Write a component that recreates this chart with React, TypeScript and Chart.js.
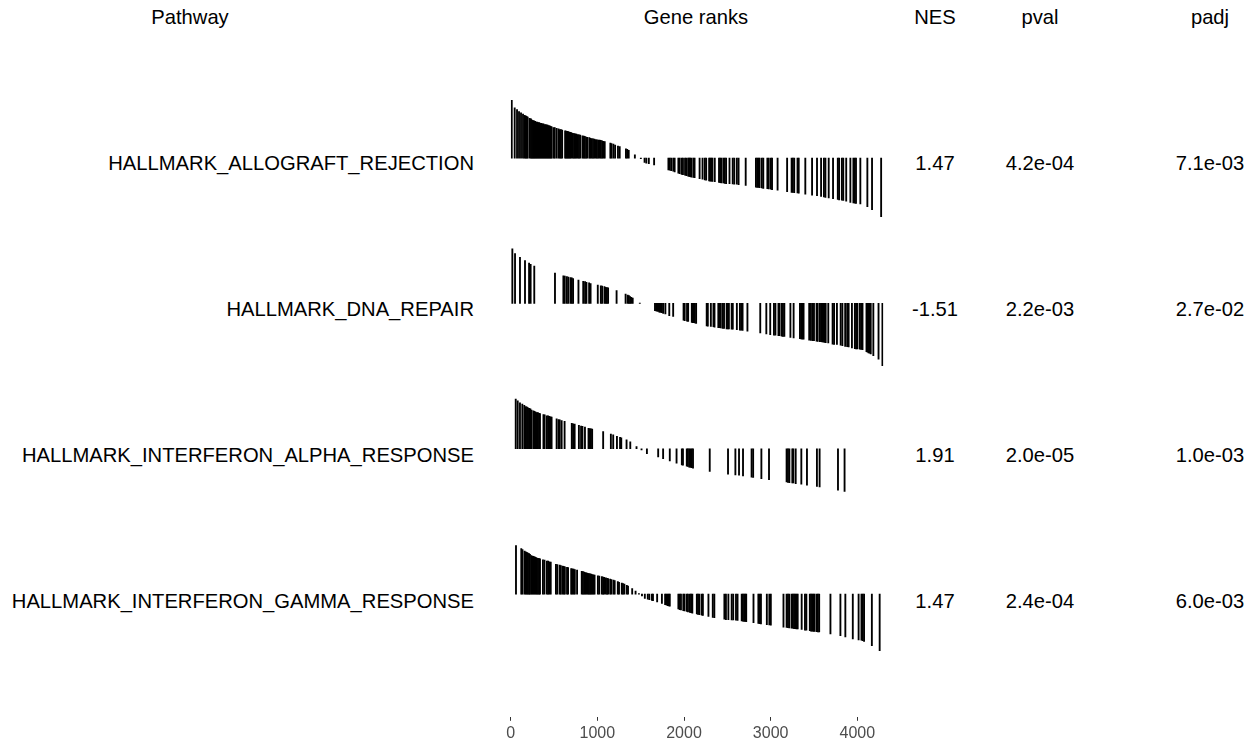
import React, { useEffect, useRef } from 'react';
import { Chart, registerables } from 'chart.js';

Chart.register(...registerables);

// ---------- data ----------
const PATHWAYS = [
  'HALLMARK_ALLOGRAFT_REJECTION',
  'HALLMARK_DNA_REPAIR',
  'HALLMARK_INTERFERON_ALPHA_RESPONSE',
  'HALLMARK_INTERFERON_GAMMA_RESPONSE',
];
const NES = ['1.47', '-1.51', '1.91', '1.47'];
const PVAL = ['4.2e-04', '2.2e-03', '2.0e-05', '2.4e-04'];
const PADJ = ['7.1e-03', '2.7e-02', '1.0e-03', '6.0e-03'];
const HEADERS = ['Pathway', 'Gene ranks', 'NES', 'pval', 'padj'];

const RANK_MAX = 4300;
const X_TICKS = [0, 1000, 2000, 3000, 4000];

// gene positions in the ranked list and their (scaled) ranking statistic
const RANKS_ALLOGRAFT = [
  12, 46, 73, 96, 119, 142, 160, 172, 184, 196, 219, 234, 246, 258, 270, 282, 294, 306, 318, 330,
  342, 354, 366, 378, 390, 402, 414, 426, 438, 450, 462, 473, 495, 508, 530, 552, 566, 580, 594, 628,
  640, 652, 664, 676, 688, 700, 718, 732, 746, 758, 774, 788, 802, 828, 842, 855, 870, 885, 908, 920,
  935, 950, 965, 980, 995, 1010, 1025, 1040, 1055, 1070, 1085, 1150, 1163, 1185, 1205, 1238, 1258, 1330, 1345, 1362,
  1433, 1502, 1545, 1565, 1594, 1655, 1820, 1835, 1852, 1876, 1892, 1935, 1950, 1973, 1988, 2012, 2027, 2048, 2060, 2070,
  2085, 2108, 2122, 2180, 2214, 2240, 2256, 2290, 2303, 2316, 2328, 2355, 2404, 2418, 2432, 2455, 2470, 2486, 2525, 2562,
  2580, 2610, 2630, 2712, 2830, 2845, 2860, 2872, 2898, 2915, 2962, 2978, 3002, 3016, 3080, 3190, 3242, 3256, 3272, 3310,
  3324, 3400, 3478, 3535, 3582, 3615, 3632, 3670, 3720, 3775, 3790, 3822, 3838, 3872, 3920, 3955, 3970, 3985, 4035, 4116,
  4170, 4275,
];
const STATS_ALLOGRAFT = [
  0.93, 0.81, 0.78, 0.75, 0.73, 0.71, 0.69, 0.68, 0.67, 0.66, 0.64, 0.63, 0.61, 0.605, 0.6, 0.59, 0.58, 0.58, 0.57, 0.57,
  0.56, 0.56, 0.55, 0.55, 0.54, 0.54, 0.535, 0.53, 0.525, 0.52, 0.51, 0.505, 0.49, 0.49, 0.48, 0.47, 0.46, 0.46, 0.45, 0.44,
  0.435, 0.43, 0.425, 0.42, 0.415, 0.41, 0.4, 0.395, 0.39, 0.385, 0.38, 0.375, 0.37, 0.36, 0.355, 0.35, 0.34, 0.335, 0.33, 0.32,
  0.315, 0.31, 0.305, 0.3, 0.295, 0.29, 0.29, 0.285, 0.28, 0.27, 0.265, 0.24, 0.235, 0.225, 0.21, 0.195, 0.185, 0.15, 0.14, 0.125,
  0.055, -0.01, -0.07, -0.08, -0.09, -0.11, -0.19, -0.195, -0.2, -0.21, -0.22, -0.24, -0.25, -0.26, -0.265, -0.275, -0.28, -0.29, -0.295, -0.3,
  -0.305, -0.31, -0.315, -0.33, -0.34, -0.35, -0.355, -0.365, -0.37, -0.37, -0.375, -0.38, -0.39, -0.395, -0.4, -0.4, -0.405, -0.41, -0.41, -0.415,
  -0.42, -0.42, -0.425, -0.44, -0.465, -0.47, -0.47, -0.475, -0.48, -0.485, -0.49, -0.495, -0.5, -0.505, -0.515, -0.54, -0.55, -0.55, -0.555, -0.56,
  -0.565, -0.58, -0.595, -0.605, -0.615, -0.625, -0.63, -0.64, -0.65, -0.665, -0.67, -0.675, -0.68, -0.69, -0.71, -0.72, -0.725, -0.73, -0.735, -0.78,
  -0.83, -0.94,
];

const RANKS_DNA_REPAIR = [
  19, 50, 107, 165, 212, 230, 272, 511, 608, 624, 648, 665, 690, 705, 720, 782, 837, 858, 874, 905,
  922, 1005, 1040, 1055, 1082, 1096, 1110, 1124, 1222, 1326, 1350, 1364, 1378, 1392, 1408, 1490, 1665, 1678, 1690, 1702,
  1715, 1728, 1745, 1760, 1785, 1830, 1875, 1995, 2008, 2035, 2048, 2090, 2102, 2112, 2125, 2140, 2262, 2275, 2310, 2340,
  2352, 2396, 2410, 2424, 2446, 2462, 2492, 2505, 2518, 2550, 2563, 2610, 2645, 2660, 2676, 2732, 2880, 2950, 2995, 3038,
  3055, 3090, 3102, 3127, 3142, 3158, 3228, 3265, 3338, 3352, 3366, 3380, 3445, 3465, 3485, 3500, 3530, 3543, 3568, 3582,
  3595, 3606, 3620, 3635, 3665, 3715, 3732, 3765, 3808, 3828, 3860, 3883, 3900, 3938, 3972, 3986, 4002, 4030, 4045, 4060,
  4106, 4118, 4130, 4142, 4155, 4185, 4245, 4290,
];
const STATS_DNA_REPAIR = [
  0.88, 0.8, 0.74, 0.69, 0.65, 0.63, 0.6, 0.49, 0.445, 0.44, 0.43, 0.425, 0.415, 0.41, 0.4, 0.375, 0.355, 0.35, 0.34, 0.33,
  0.32, 0.295, 0.285, 0.28, 0.27, 0.26, 0.255, 0.25, 0.205, 0.15, 0.135, 0.125, 0.11, 0.1, 0.085, 0.005, -0.115, -0.12, -0.125, -0.13,
  -0.14, -0.145, -0.15, -0.16, -0.17, -0.195, -0.21, -0.27, -0.275, -0.285, -0.29, -0.305, -0.31, -0.31, -0.315, -0.32, -0.36, -0.365, -0.37, -0.375,
  -0.38, -0.39, -0.39, -0.395, -0.4, -0.4, -0.41, -0.41, -0.41, -0.415, -0.415, -0.42, -0.43, -0.43, -0.435, -0.445, -0.475, -0.49, -0.5, -0.51,
  -0.51, -0.52, -0.52, -0.525, -0.53, -0.53, -0.545, -0.555, -0.565, -0.57, -0.575, -0.575, -0.59, -0.595, -0.6, -0.6, -0.605, -0.61, -0.615, -0.615,
  -0.62, -0.62, -0.625, -0.63, -0.635, -0.655, -0.66, -0.66, -0.67, -0.68, -0.69, -0.695, -0.7, -0.715, -0.725, -0.73, -0.73, -0.735, -0.74, -0.745,
  -0.775, -0.785, -0.795, -0.8, -0.81, -0.84, -0.895, -1.0,
];

const RANKS_IFN_ALPHA = [
  58, 81, 107, 134, 157, 175, 188, 200, 214, 227, 240, 262, 275, 288, 301, 314, 327, 338, 378, 392,
  418, 432, 446, 460, 472, 530, 552, 566, 588, 622, 705, 720, 738, 787, 812, 828, 857, 898, 912, 926,
  940, 1067, 1156, 1183, 1226, 1262, 1276, 1337, 1380, 1452, 1510, 1572, 1702, 1759, 1836, 1914, 1975, 1988, 2032, 2045,
  2060, 2075, 2090, 2104, 2297, 2508, 2593, 2635, 2681, 2780, 2798, 2893, 2981, 3184, 3200, 3216, 3250, 3262, 3289, 3354,
  3419, 3534, 3565, 3777, 3853,
];
const STATS_IFN_ALPHA = [
  0.8, 0.77, 0.74, 0.72, 0.7, 0.68, 0.67, 0.66, 0.65, 0.64, 0.62, 0.61, 0.6, 0.59, 0.58, 0.58, 0.57, 0.565, 0.55, 0.545,
  0.53, 0.53, 0.52, 0.515, 0.51, 0.48, 0.47, 0.465, 0.455, 0.44, 0.41, 0.4, 0.395, 0.375, 0.365, 0.36, 0.35, 0.33, 0.325, 0.32,
  0.315, 0.275, 0.235, 0.225, 0.2, 0.185, 0.175, 0.145, 0.11, 0.035, -0.02, -0.08, -0.13, -0.16, -0.195, -0.23, -0.26, -0.265, -0.28, -0.285,
  -0.295, -0.3, -0.305, -0.31, -0.365, -0.41, -0.42, -0.425, -0.435, -0.455, -0.46, -0.48, -0.495, -0.535, -0.54, -0.545, -0.55, -0.55, -0.56, -0.57,
  -0.585, -0.605, -0.615, -0.665, -0.685,
];

const RANKS_IFN_GAMMA = [
  61, 122, 136, 160, 173, 186, 199, 212, 222, 237, 250, 263, 276, 289, 302, 315, 328, 338, 372, 390,
  418, 432, 446, 462, 522, 538, 565, 578, 598, 612, 625, 650, 662, 698, 712, 726, 740, 766, 820, 834,
  848, 862, 875, 890, 903, 916, 929, 942, 955, 968, 1006, 1022, 1052, 1066, 1078, 1098, 1112, 1124, 1148, 1162,
  1186, 1200, 1236, 1250, 1282, 1296, 1312, 1340, 1354, 1402, 1441, 1480, 1515, 1548, 1582, 1600, 1630, 1642, 1690, 1745,
  1782, 1796, 1810, 1824, 1836, 1935, 1950, 1965, 1992, 2006, 2032, 2046, 2068, 2082, 2096, 2148, 2162, 2178, 2205, 2218,
  2282, 2332, 2350, 2466, 2484, 2512, 2550, 2568, 2600, 2618, 2666, 2680, 2694, 2708, 2718, 2802, 2858, 2872, 2888, 2956,
  2985, 3002, 3148, 3184, 3200, 3215, 3242, 3256, 3270, 3284, 3298, 3312, 3358, 3396, 3412, 3452, 3466, 3480, 3494, 3506,
  3530, 3545, 3560, 3690, 3805, 3862, 3948, 4015, 4048, 4062, 4078, 4168, 4258,
];
const STATS_IFN_GAMMA = [
  0.78, 0.73, 0.715, 0.69, 0.68, 0.67, 0.66, 0.65, 0.64, 0.62, 0.61, 0.605, 0.6, 0.59, 0.58, 0.575, 0.57, 0.565, 0.55, 0.545,
  0.53, 0.53, 0.52, 0.515, 0.48, 0.475, 0.465, 0.46, 0.45, 0.445, 0.44, 0.43, 0.425, 0.41, 0.405, 0.4, 0.395, 0.385, 0.365, 0.36,
  0.355, 0.345, 0.34, 0.335, 0.33, 0.325, 0.32, 0.315, 0.31, 0.305, 0.295, 0.29, 0.28, 0.275, 0.27, 0.26, 0.255, 0.25, 0.24, 0.235,
  0.225, 0.215, 0.2, 0.19, 0.175, 0.17, 0.16, 0.14, 0.13, 0.09, 0.05, 0.01, -0.03, -0.07, -0.08, -0.09, -0.1, -0.105, -0.125, -0.15,
  -0.17, -0.175, -0.185, -0.19, -0.195, -0.24, -0.25, -0.255, -0.265, -0.27, -0.28, -0.285, -0.295, -0.3, -0.305, -0.32, -0.325, -0.33, -0.34, -0.345,
  -0.36, -0.375, -0.38, -0.405, -0.41, -0.41, -0.415, -0.415, -0.42, -0.425, -0.43, -0.435, -0.44, -0.44, -0.445, -0.46, -0.47, -0.475, -0.48, -0.49,
  -0.495, -0.5, -0.53, -0.535, -0.54, -0.545, -0.55, -0.55, -0.555, -0.555, -0.56, -0.56, -0.57, -0.58, -0.58, -0.59, -0.595, -0.595, -0.6, -0.6,
  -0.605, -0.61, -0.61, -0.64, -0.67, -0.69, -0.72, -0.735, -0.74, -0.75, -0.76, -0.83, -0.91,
];

// ---------- layout ----------
const FONT = '"Liberation Sans", Arial, Helvetica, sans-serif';
const TEXT_SIZE = 20.2;
const TICK_SIZE = 16;
const CANVAS_LEFT = 470;
const CANVAS_W = 430;
const CANVAS_H = 746;
const PLOT_LEFT = 510.7; // page x of rank 0
const PLOT_RIGHT = 883.3; // page x of RANK_MAX
const PLOT_TOP = 80;
const TICK_LEN = 4;
const TICK_PAD = 3;
const PLOT_BOTTOM = CANVAS_H - (TICK_LEN + TICK_PAD + TICK_SIZE * 1.2);
const UNIT_PX = 62.5; // px per unit of scaled statistic
const ROW0_Y = 158.5; // page y of first row's zero line
const ROW_STEP_PX = 146;
const ROW_STEP = ROW_STEP_PX / UNIT_PX;
const Y_MAX = (ROW0_Y - PLOT_TOP) / UNIT_PX;
const Y_MIN = -(PLOT_BOTTOM - ROW0_Y) / UNIT_PX;

const ROW_TEXT_Y = [163, 309, 455, 601];
const HEADER_Y = 17;
const COL_CENTERS = { pathway: 190, ranks: 696, nes: 935, pval: 1040, padj: 1210 };
const PATHWAY_RIGHT = 474;

function Txt(props: { cx?: number; right?: number; cy: number; children: React.ReactNode; color?: string }) {
  const h = 26;
  const style: React.CSSProperties = {
    position: 'absolute',
    top: props.cy - h / 2,
    height: h,
    lineHeight: h + 'px',
    fontFamily: FONT,
    fontSize: TEXT_SIZE,
    color: props.color || '#000',
    whiteSpace: 'nowrap',
  };
  if (props.right !== undefined) {
    style.left = 0;
    style.width = props.right;
    style.textAlign = 'right';
  } else {
    style.left = (props.cx as number) - 150;
    style.width = 300;
    style.textAlign = 'center';
  }
  return <div style={style}>{props.children}</div>;
}

export default function App() {
  const ref = useRef<HTMLCanvasElement>(null);

  useEffect(() => {
    if (!ref.current) return;
    const rows = [
      { ranks: RANKS_ALLOGRAFT, stats: STATS_ALLOGRAFT },
      { ranks: RANKS_DNA_REPAIR, stats: STATS_DNA_REPAIR },
      { ranks: RANKS_IFN_ALPHA, stats: STATS_IFN_ALPHA },
      { ranks: RANKS_IFN_GAMMA, stats: STATS_IFN_GAMMA },
    ];
    const datasets = rows.map((row, i) => {
      const base = -i * ROW_STEP;
      return {
        label: PATHWAYS[i],
        data: row.ranks.map((r, j) => ({ x: r, y: [base, base + row.stats[j]] })),
        backgroundColor: '#000000',
        borderWidth: 0,
        barThickness: 1.2,
        grouped: false,
      };
    });
    const chart = new Chart(ref.current, {
      type: 'bar',
      data: { datasets: datasets as any },
      options: {
        responsive: false,
        animation: false,
        devicePixelRatio: 1,
        layout: {
          padding: {
            left: PLOT_LEFT - CANVAS_LEFT,
            right: CANVAS_LEFT + CANVAS_W - PLOT_RIGHT,
            top: PLOT_TOP,
            bottom: 0,
          },
        },
        plugins: { legend: { display: false }, tooltip: { enabled: false } },
        scales: {
          x: {
            type: 'linear',
            min: 0,
            max: RANK_MAX,
            offset: false,
            grid: {
              display: true,
              drawOnChartArea: false,
              drawTicks: true,
              tickLength: TICK_LEN,
              color: '#333333',
              lineWidth: 1,
              offset: false,
            },
            border: { display: false },
            ticks: {
              font: { family: FONT, size: TICK_SIZE },
              color: '#4d4d4d',
              padding: TICK_PAD,
              maxRotation: 0,
              autoSkip: false,
              callback: (v: any) => String(v),
            },
            afterBuildTicks: (axis: any) => {
              axis.ticks = X_TICKS.map((v) => ({ value: v }));
            },
          },
          y: { type: 'linear', display: false, min: Y_MIN, max: Y_MAX },
        },
      } as any,
    });
    return () => chart.destroy();
  }, []);

  return (
    <div style={{ position: 'absolute', left: 0, top: 0, width: 1257, height: 746, background: '#fff', overflow: 'hidden' }}>
      <Txt cx={COL_CENTERS.pathway} cy={HEADER_Y}>{HEADERS[0]}</Txt>
      <Txt cx={COL_CENTERS.ranks} cy={HEADER_Y}>{HEADERS[1]}</Txt>
      <Txt cx={COL_CENTERS.nes} cy={HEADER_Y}>{HEADERS[2]}</Txt>
      <Txt cx={COL_CENTERS.pval} cy={HEADER_Y}>{HEADERS[3]}</Txt>
      <Txt cx={COL_CENTERS.padj} cy={HEADER_Y}>{HEADERS[4]}</Txt>
      {PATHWAYS.map((p, i) => (
        <React.Fragment key={p}>
          <Txt right={PATHWAY_RIGHT} cy={ROW_TEXT_Y[i]}>{p}</Txt>
          <Txt cx={COL_CENTERS.nes} cy={ROW_TEXT_Y[i]}>{NES[i]}</Txt>
          <Txt cx={COL_CENTERS.pval} cy={ROW_TEXT_Y[i]}>{PVAL[i]}</Txt>
          <Txt cx={COL_CENTERS.padj} cy={ROW_TEXT_Y[i]}>{PADJ[i]}</Txt>
        </React.Fragment>
      ))}
      <canvas
        ref={ref}
        width={CANVAS_W}
        height={CANVAS_H}
        style={{ position: 'absolute', left: CANVAS_LEFT, top: 0, width: CANVAS_W, height: CANVAS_H }}
      />
    </div>
  );
}
